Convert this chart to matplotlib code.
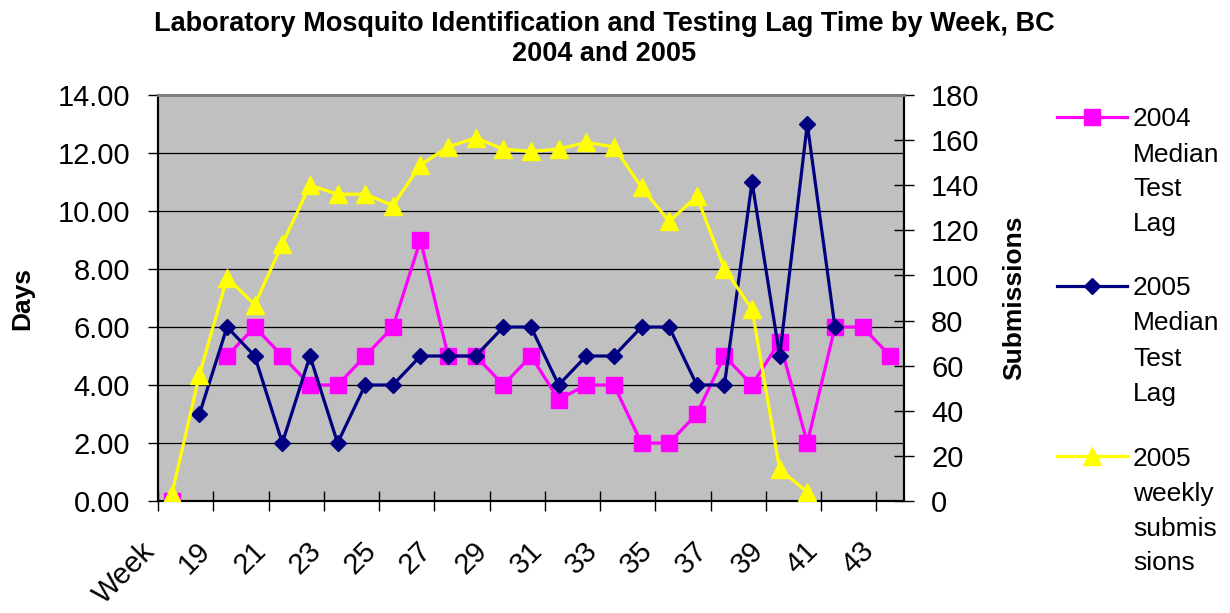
import numpy as np
import matplotlib.pyplot as plt
from matplotlib.lines import Line2D
import matplotlib.transforms as mtransforms

plt.rcParams['font.family'] = ['Liberation Sans', 'DejaVu Sans']

# categories (x axis)
weeks = ['Week'] + [str(w) for w in range(18, 44)]

# median test lag in days (left axis)
lag_2004 = [0, np.nan, 5, 6, 5, 4, 4, 5, 6, 9, 5, 5, 4, 5, 3.5, 4, 4, 2, 2, 3,
            5, 4, 5.5, 2, 6, 6, 5]
lag_2005 = [np.nan, 3, 6, 5, 2, 5, 2, 4, 4, 5, 5, 5, 6, 6, 4, 5, 5, 6, 6, 4,
            4, 11, 5, 13, 6, np.nan, np.nan]
# weekly submissions (right axis)
subs_2005 = [3, 56, 99, 87, 114, 140, 136, 136, 131, 149, 157, 161, 156, 155,
             156, 159, 157, 139, 124, 135, 103, 85, 14, 4, np.nan, np.nan, np.nan]

names = ['2004\nMedian\nTest\nLag', '2005\nMedian\nTest\nLag',
         '2005\nweekly\nsubmis\nsions']
colors = ['#FF00FF', '#000080', '#FFFF00']

W, H = 1230, 613
fig = plt.figure(figsize=(W / 100, H / 100), dpi=100)
ax = fig.add_axes([158 / W, 1 - 501 / H, (904 - 158) / W, (501 - 95) / H])
ax.set_facecolor('#C0C0C0')

x = np.arange(len(weeks))
ax.plot(x, lag_2004, color=colors[0], lw=2.3, marker='s', ms=11, zorder=3)
ax.plot(x, lag_2005, color=colors[1], lw=2.3, marker='D', ms=8.5, zorder=3)

ax.set_xlim(-0.5, len(weeks) - 0.5)
ax.set_ylim(0, 14)
ax.set_yticks(np.arange(0, 14.1, 2))
ax.set_yticklabels(['%.2f' % v for v in np.arange(0, 14.1, 2)])
ax.yaxis.grid(True, color='black', lw=0.9)
ax.set_axisbelow(True)
ax.tick_params(axis='y', direction='out', length=7, width=1, pad=13, labelsize=21)

# x ticks: marks between categories, labels every other category
ax.set_xticks(x[::2])
ax.set_xticklabels(weeks[::2], rotation=45, ha='right', va='center',
                   rotation_mode='anchor', fontsize=21)
ax.set_xticks(np.arange(-0.5, len(weeks) - 1, 2), minor=True)
ax.tick_params(axis='x', which='major', length=0, pad=33)
ax.tick_params(axis='x', which='minor', direction='inout', length=15, width=1)
shift = mtransforms.ScaledTranslation(-0.21, 0, fig.dpi_scale_trans)
for lbl in ax.get_xticklabels():
    lbl.set_transform(lbl.get_transform() + shift)

ax2 = ax.twinx()
ax2.plot(x, subs_2005, color=colors[2], lw=2.3, marker='^', ms=13, zorder=3)
ax2.set_ylim(0, 180)
ax2.set_yticks(np.arange(0, 181, 20))
ax2.tick_params(axis='y', direction='inout', length=15, width=1, pad=12, labelsize=21)

for a in (ax, ax2):
    a.spines['top'].set_color('#808080')
    a.spines['top'].set_linewidth(2)
    a.spines['bottom'].set_linewidth(1.5)
    a.spines['left'].set_linewidth(1.5)
    a.spines['right'].set_linewidth(1.5)

ax.set_ylabel('Days', fontsize=19, fontweight='bold')
ax.yaxis.set_label_coords((34 - 158) / 746, 0.5)
ax2.set_ylabel('Submissions', fontsize=19, fontweight='bold')
ax2.yaxis.set_label_coords((1002 - 158) / 746, 0.5)

fig.text(604 / W, 1 - 11 / H,
         'Laboratory Mosquito Identification and Testing Lag Time by Week, BC\n2004 and 2005',
         ha='center', va='top', fontsize=19.5, fontweight='bold', linespacing=1.2)

# legend drawn by hand so the key sits on the first text line
markers = [('s', 11), ('D', 8.5), ('^', 13)]
for k, (name, c, (m, s)) in enumerate(zip(names, colors, markers)):
    y0 = [117, 286, 456][k]
    yf = 1 - y0 / H
    fig.add_artist(Line2D([1057 / W, 1092 / W, 1127 / W], [yf, yf, yf], color=c,
                          lw=2.3, marker=m, ms=s, markevery=[1]))
    for j, line in enumerate(name.split('\n')):
        fig.text(1133 / W, 1 - (y0 + 9.5 + j * 35) / H, line, ha='left',
                 va='baseline', fontsize=19)

fig.savefig('out.png', dpi=100)
